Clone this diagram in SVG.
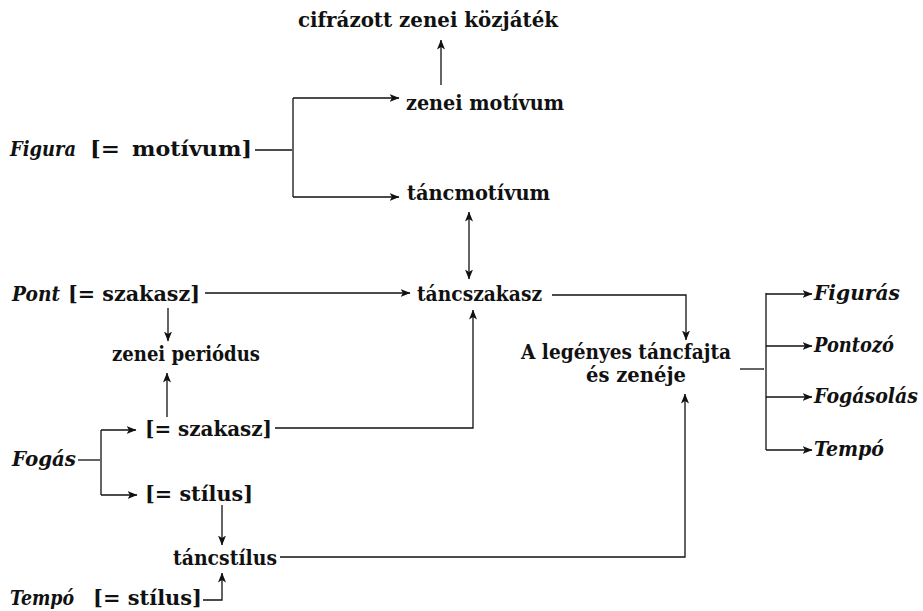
<svg xmlns="http://www.w3.org/2000/svg" width="923" height="611" viewBox="0 0 923 611">
<defs>
<marker id="ah" viewBox="0 0 10 8" refX="9.5" refY="4" markerWidth="10" markerHeight="8" markerUnits="userSpaceOnUse" orient="auto-start-reverse">
<path d="M0,0 L10,4 L0,8 L2.5,4 Z" fill="#111"/>
</marker>
<style>
text{font-family:"DejaVu Serif","Liberation Serif",serif;font-size:20px;font-weight:bold;fill:#111;}
.i{font-style:italic;}
.c line,.c polyline{stroke:#111;stroke-width:1.3;fill:none;}
.a{marker-end:url(#ah);}
.b{marker-start:url(#ah);marker-end:url(#ah);}
</style>
</defs>
<rect width="923" height="611" fill="#fff"/>
<g id="n-cifrazott"><text x="298" y="27" textLength="260" lengthAdjust="spacingAndGlyphs">cifrázott zenei közjáték</text></g>
<g id="n-zenei-motivum"><text x="406" y="110" textLength="158" lengthAdjust="spacingAndGlyphs">zenei motívum</text></g>
<g id="n-figura"><text class="i" x="10" y="156" textLength="66" lengthAdjust="spacingAndGlyphs">Figura</text><text x="90" y="156" textLength="30" lengthAdjust="spacingAndGlyphs">[=</text><text x="132" y="156" textLength="120" lengthAdjust="spacingAndGlyphs">motívum]</text></g>
<g id="n-tancmotivum"><text x="407" y="200" textLength="143" lengthAdjust="spacingAndGlyphs">táncmotívum</text></g>
<g id="n-pont"><text class="i" x="12" y="301" textLength="48" lengthAdjust="spacingAndGlyphs">Pont</text><text x="68" y="301" textLength="132" lengthAdjust="spacingAndGlyphs">[= szakasz]</text></g>
<g id="n-tancszakasz"><text x="417" y="301" textLength="125" lengthAdjust="spacingAndGlyphs">táncszakasz</text></g>
<g id="n-zenei-periodus"><text x="112" y="361" textLength="148" lengthAdjust="spacingAndGlyphs">zenei periódus</text></g>
<g id="n-fogas-szakasz"><text x="145" y="436" textLength="127" lengthAdjust="spacingAndGlyphs">[= szakasz]</text></g>
<g id="n-fogas"><text class="i" x="12" y="466" textLength="64" lengthAdjust="spacingAndGlyphs">Fogás</text></g>
<g id="n-fogas-stilus"><text x="145" y="501" textLength="108" lengthAdjust="spacingAndGlyphs">[= stílus]</text></g>
<g id="n-tancstilus"><text x="173" y="565" textLength="104" lengthAdjust="spacingAndGlyphs">táncstílus</text></g>
<g id="n-tempo"><text class="i" x="10" y="605" textLength="64" lengthAdjust="spacingAndGlyphs">Tempó</text><text x="93" y="605" textLength="109" lengthAdjust="spacingAndGlyphs">[= stílus]</text></g>
<g id="n-legenyes"><text x="521" y="359" font-size="19" textLength="210" lengthAdjust="spacingAndGlyphs">A legényes táncfajta</text><text x="586" y="382" font-size="19" textLength="100" lengthAdjust="spacingAndGlyphs">és zenéje</text></g>
<g id="n-figuras"><text class="i" x="814" y="300" textLength="86" lengthAdjust="spacingAndGlyphs">Figurás</text></g>
<g id="n-pontozo"><text class="i" x="814" y="352" textLength="80" lengthAdjust="spacingAndGlyphs">Pontozó</text></g>
<g id="n-fogasolas"><text class="i" x="814" y="403" textLength="104" lengthAdjust="spacingAndGlyphs">Fogásolás</text></g>
<g id="n-tempo-r"><text class="i" x="814" y="456" textLength="70" lengthAdjust="spacingAndGlyphs">Tempó</text></g>
<g id="connectors" class="c">
<line class="a" x1="441" y1="85" x2="441" y2="40"/>
<line x1="255" y1="150" x2="292" y2="150"/>
<line x1="293" y1="98" x2="293" y2="197"/>
<line class="a" x1="293" y1="98" x2="399" y2="98"/>
<line class="a" x1="293" y1="197" x2="399" y2="197"/>
<line class="b" x1="469" y1="212" x2="469" y2="279"/>
<line class="a" x1="205" y1="293" x2="410" y2="293"/>
<line class="a" x1="168" y1="308" x2="168" y2="341"/>
<line class="a" x1="167" y1="417" x2="167" y2="373"/>
<polyline class="a" points="552,295 686,295 686,340"/>
<polyline class="a" points="275,428 473,428 473,310"/>
<line x1="78" y1="460" x2="100" y2="460"/>
<line x1="101" y1="430" x2="101" y2="495"/>
<line class="a" x1="101" y1="430" x2="136" y2="430"/>
<line class="a" x1="101" y1="495" x2="137" y2="495"/>
<line class="a" x1="222" y1="505" x2="222" y2="545"/>
<polyline class="a" points="280,557 685,557 685,394"/>
<polyline class="a" points="203,600 222,600 222,573"/>
<line x1="740" y1="369" x2="764" y2="369"/>
<line x1="766" y1="293" x2="766" y2="450"/>
<line class="a" x1="766" y1="294" x2="812" y2="294"/>
<line class="a" x1="766" y1="346" x2="812" y2="346"/>
<line class="a" x1="766" y1="397" x2="812" y2="397"/>
<line class="a" x1="766" y1="450" x2="812" y2="450"/>
</g>
</svg>
